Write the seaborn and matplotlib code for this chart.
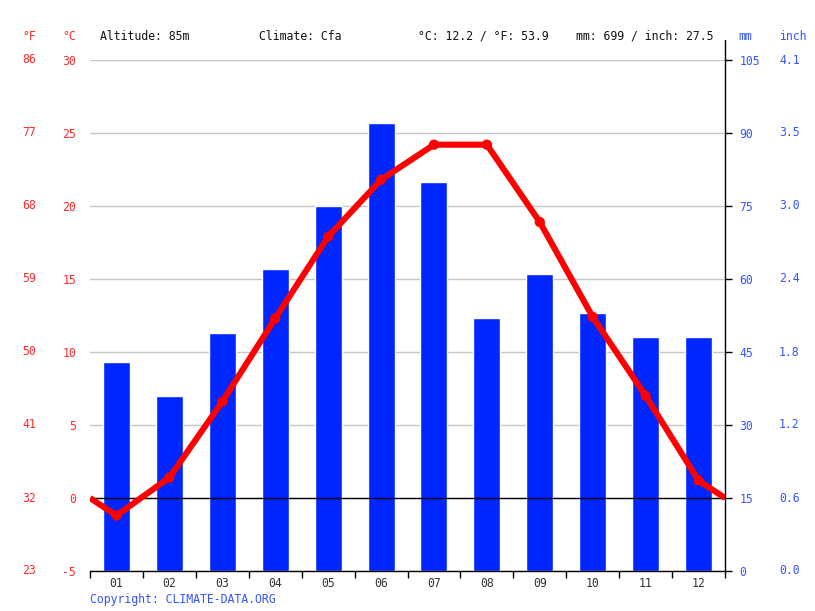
import numpy as np
import pandas as pd
import matplotlib
matplotlib.use("Agg")
import matplotlib.pyplot as plt
import seaborn as sns

# ---- data ----
months = ["01", "02", "03", "04", "05", "06", "07", "08", "09", "10", "11", "12"]
precip_mm = [43, 36, 49, 62, 75, 92, 80, 52, 61, 53, 48, 48]
temp_c = [-1.2, 1.4, 6.6, 12.3, 17.9, 21.8, 24.2, 24.2, 18.9, 12.4, 7.0, 1.2]
c_ticks = [-5, 0, 5, 10, 15, 20, 25, 30]
f_labels = ["23", "32", "41", "50", "59", "68", "77", "86"]
mm_ticks = [0, 15, 30, 45, 60, 75, 90, 105]
inch_labels = ["0.0", "0.6", "1.2", "1.8", "2.4", "3.0", "3.5", "4.1"]
header_altitude = "Altitude: 85m"
header_climate = "Climate: Cfa"
header_temp = "°C: 12.2 / °F: 53.9"
header_precip = "mm: 699 / inch: 27.5"
copyright_text = "Copyright: CLIMATE-DATA.ORG"

# ---- style ----
sns.set_theme(style="white")
plt.rcParams["font.family"] = ["DejaVu Sans Mono", "DejaVu Sans"]
FS = 8.3
RED = "#ff0000"
RED_TXT = "#ff2a2a"
BLUE = "#0026ff"
BLUE_TXT = "#3355ff"
W, H = 815, 611

fig = plt.figure(figsize=(W / 100, H / 100), dpi=100)
ax = fig.add_axes([90 / W, 40 / H, 635 / W, 511 / H])

df = pd.DataFrame({"month": months, "mm": precip_mm})
sns.barplot(data=df, x="month", y="mm", color=BLUE, saturation=1, width=0.51,
            ax=ax, zorder=2)

# temperature axis (create twin first; twinx resets tick sides of ax)
ax2 = ax.twinx()
edge = (temp_c[0] + temp_c[-1]) / 2
xs = [-0.5] + list(range(12)) + [11.5]
ys = [edge] + temp_c + [edge]
ax2.axhline(0, color="black", lw=1, zorder=1)
sns.lineplot(x=xs, y=ys, color=RED, lw=4.4, ax=ax2, zorder=3, sort=False,
             solid_capstyle="butt")
sns.scatterplot(x=list(range(12)), y=temp_c, color=RED, s=55, edgecolor="none",
                ax=ax2, zorder=4)

ax.set_xlim(-0.5, 11.5)
ax.set_ylim(0, 105)
ax.set_xlabel("")
ax.set_ylabel("")
ax.set_axisbelow(True)
ax.grid(axis="y", color="#c6c6c6", lw=1)
ax.grid(axis="x", visible=False)

# right axis (mm)
ax.set_yticks(mm_ticks)
ax.set_yticklabels([str(v) for v in mm_ticks], color=BLUE_TXT, fontsize=FS)
ax.yaxis.set_ticks_position("right")
ax.yaxis.set_label_position("right")
ax.tick_params(axis="y", which="major", direction="out", length=5, width=1,
               color="black", pad=5.5, right=True, left=False,
               labelright=True, labelleft=False)
for t, lab in zip(mm_ticks, inch_labels):
    ax.text(1 + (779 - 725) / 635, t, lab, transform=ax.get_yaxis_transform(),
            ha="left", va="center", color=BLUE_TXT, fontsize=FS)

# x axis
ax.set_xticks(range(12))
ax.set_xticklabels(months, color="#333333", fontsize=FS)
ax.set_xticks(np.arange(-0.5, 12, 1), minor=True)
ax.tick_params(axis="x", which="major", length=0, pad=4.5)
ax.tick_params(axis="x", which="minor", direction="out", length=5, width=1,
               color="black", bottom=True)

for s in ["top", "left"]:
    ax.spines[s].set_visible(False)
for s in ["bottom", "right"]:
    ax.spines[s].set_visible(True)
    ax.spines[s].set_color("black")
    ax.spines[s].set_linewidth(1)
ax.axvline(11.5, ymin=1, ymax=1 + 20 / 511, color="black", lw=1, clip_on=False)

ax2.set_ylim(-5, 30)
ax2.set_xlim(-0.5, 11.5)
ax2.set_ylabel("")
ax2.set_yticks(c_ticks)
ax2.set_yticklabels([str(v) for v in c_ticks], color=RED_TXT, fontsize=FS)
ax2.yaxis.set_ticks_position("left")
ax2.tick_params(axis="y", length=0, pad=10, left=True, right=False,
                labelleft=True, labelright=False)
for s in ax2.spines.values():
    s.set_visible(False)
for t, lab in zip(c_ticks, f_labels):
    ax2.text((36 - 90) / 635, t, lab, transform=ax2.get_yaxis_transform(),
             ha="right", va="center", color=RED_TXT, fontsize=FS)

# header
yh = 1 - 36 / H
fig.text(36 / W, yh, "°F", ha="right", va="center", color=RED_TXT, fontsize=FS)
fig.text(76 / W, yh, "°C", ha="right", va="center", color=RED_TXT, fontsize=FS)
fig.text(100 / W, yh, header_altitude, ha="left", va="center", color="#111111", fontsize=FS)
fig.text(259 / W, yh, header_climate, ha="left", va="center", color="#111111", fontsize=FS)
fig.text(418 / W, yh, header_temp, ha="left", va="center", color="#111111", fontsize=FS)
fig.text(576 / W, yh, header_precip, ha="left", va="center", color="#111111", fontsize=FS)
fig.text(738 / W, yh, "mm", ha="left", va="center", color=BLUE_TXT, fontsize=FS)
fig.text(779 / W, yh, "inch", ha="left", va="center", color=BLUE_TXT, fontsize=FS)
fig.text(90 / W, 1 - 600 / H, copyright_text, ha="left", va="center", color=BLUE_TXT, fontsize=FS)

fig.savefig("out.png", dpi=100)
